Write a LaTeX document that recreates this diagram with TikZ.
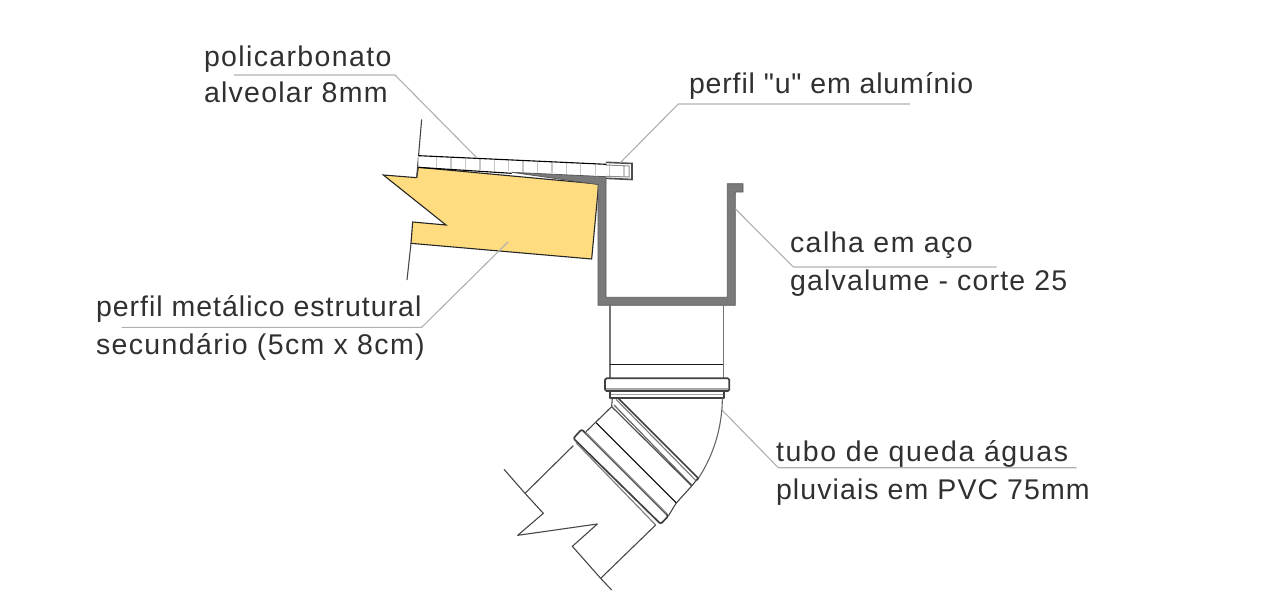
\documentclass[tikz,border=0pt]{standalone}
\usepackage{fontspec}
\setmainfont{Liberation Sans}[Ligatures=TeXOff,LetterSpace=3.5]
\newcommand{\lsp}[1]{\addfontfeature{LetterSpace=#1}}
\definecolor{labeltext}{HTML}{303030}
\definecolor{leadergrey}{HTML}{B0B0B0}
\definecolor{metalgrey}{HTML}{7A7A7A}
\definecolor{woodyellow}{HTML}{FFDC7F}
\tikzset{
  lbl/.style={anchor=base west,inner sep=0pt,outer sep=0pt,text=labeltext,font=\fontsize{28.5}{32}\selectfont},
  leader/.style={draw=leadergrey,line width=1.1pt,line join=round},
  pipeline/.style={draw=black!72,line width=1.1pt,line join=round},
  pipethick/.style={draw=black!75,line width=1.7pt,line join=round},
  ticks/.style={draw=black!22,line width=1.2pt},
  zoomA/.style={x=0.33333pt,y=-0.33333pt,shift={(370pt,-110pt)}},
  zoomB/.style={x=0.33333pt,y=-0.33333pt,shift={(490pt,-350pt)}}
}
\begin{document}
\begin{tikzpicture}[x=1pt,y=-1pt]
\useasboundingbox (0,0) rectangle (1261,603);
% labels
\node[lbl] (t1) at (204,66) {\lsp{4.8}policarbonato};
\node[lbl] (t2) at (204,102.7) {\lsp{4.4}alveolar 8mm};
\node[lbl] (t3) at (689,93.3) {\lsp{3.0}perfil "u" em alumínio};
\node[lbl] (t4) at (790,252) {\lsp{5.2}calha em aço};
\node[lbl] (t5) at (790,290) {\lsp{4.2}galvalume - corte 25};
\node[lbl] (t6) at (96,316.5) {perfil metálico estrutural};
\node[lbl] (t7) at (96,354.5) {\lsp{4.8}secundário (5cm x 8cm)};
\node[lbl] (t8) at (776,461.5) {\lsp{5.7}tubo de queda águas};
\node[lbl] (t9) at (776,499) {\lsp{3.85}pluviais em PVC 75mm};
% yellow profile
\begin{scope}[zoomA]
\draw[fill=woodyellow,draw=black!85,line width=1.1pt,line join=miter]
 (145,172) -- (140,203) -- (40,195) -- (228,345) -- (128,336) -- (123,400) -- (665,447) -- (686,222) -- cycle;
\draw[pipeline] (155,28) -- (140,203);
\draw[pipeline] (123,400) -- (111,510);
% polycarbonate
\draw[ticks] foreach \x in {200,243,287,330,373,416,459,503,546,589,632,676,719,762} {(\x,{137+(\x-145)*0.046}) -- (\x,{172+(\x-145)*0.046})};
\draw[draw=black,line width=1.1pt] (145,137) -- (710,163);
\draw[ticks] (145,137) -- (145,172);
\draw[draw=black,line width=1.1pt] (145,172) -- (425,190);
\end{scope}
% gutter
\draw[fill=metalgrey,draw=black!65,line width=0.8pt,line join=miter]
 (511.7,172.3) -- (606,176.7) -- (606,297.3) -- (727.3,297.3) -- (727.3,183.7) -- (743,183.7) -- (743,192) -- (735.3,192) -- (735.3,305.3) -- (598,305.3) -- (598,184.5) -- cycle;
% u profile
\draw[draw=black!70,line width=1.6pt,line join=miter] (606,162.3) -- (632,163.5) -- (632,179.5) -- (606,178.3);
\draw[draw=black!45,line width=1pt] (606,165) -- (629,166) -- (629,177) -- (606,176.3);
% leaders
\coordinate (l1a) at (234,75); \coordinate (l1b) at (395,75); \coordinate (l1c) at (477,158);
\coordinate (l2a) at (910,104); \coordinate (l2b) at (678.3,104); \coordinate (l2c) at (620,163);
\coordinate (l3a) at (121.7,327.3); \coordinate (l3b) at (421.7,327.3); \coordinate (l3c) at (508,242);
\coordinate (l4a) at (996.7,267); \coordinate (l4b) at (793.3,267); \coordinate (l4c) at (735.5,209);
\coordinate (l5a) at (1076.7,467.7); \coordinate (l5b) at (778.3,467.7); \coordinate (l5c) at (722,410);
\draw[leader] (l1a) -- (l1b) -- (l1c);
\draw[leader] (l2a) -- (l2b) -- (l2c);
\draw[leader] (l3a) -- (l3b) -- (l3c);
\draw[leader] (l4a) -- (l4b) -- (l4c);
\draw[leader] (l5a) -- (l5b) -- (l5c);
% vertical pipe
\draw[pipeline,draw=black!55] (610,305.3) -- (610,378.3);
\draw[pipeline,draw=black!55] (723.3,305.3) -- (723.3,378.3);
\draw[draw=black!90,line width=0.9pt] (610,364) -- (723.3,364);
\draw[pipethick,rounded corners=1.5pt,fill=white] (605,378.3) rectangle (729.3,391);
\draw[draw=black!35,line width=1.2pt] (606,389) -- (728,389);
\draw[pipethick] (610,391) -- (610,397.7) -- (724,397.7) -- (724,391);
\draw[draw=black!35,line width=1.2pt] (611,394.5) -- (723,394.5);
\begin{scope}[zoomB]
\draw[pipeline] (367,143) -- (365,170);
\draw[draw=black!60,line width=1.1pt] (697,143) .. controls (697,240) and (665,325) .. (625,385);
\draw[pipethick] (385,145) -- (625,385) -- (618,392);
\draw[draw=black!50,line width=1.2pt] (378,148) -- (618,392);
\draw[draw=black!60,line width=1.2pt] (372,165) -- (605,405);
\draw[pipeline] (365,170) -- (605,408);
\draw[pipeline] (618,392) -- (605,408) -- (558,460) -- (535,498);
\draw[draw=black,line width=1.1pt] (318,218) -- (558,458);
\draw[pipeline] (365,170) -- (288,245);
\draw[pipethick,rounded corners=2pt] (275,238) -- (535,498) -- (512,522) -- (250,265) -- cycle;
\draw[draw=black!45,line width=1.2pt] (288,248) -- (530,490);
\draw[draw=black!50,line width=1.2pt] (258,278) -- (497,525);
\draw[pipeline] (250,287) -- (105,430);
\draw[pipeline] (497,525) -- (332,685);
\draw[pipeline] (42,358) -- (105,430) -- (160,490) -- (83,556) -- (322,522) -- (247,589) -- (332,685) -- (365,720);
\end{scope}
\end{tikzpicture}
\end{document}
